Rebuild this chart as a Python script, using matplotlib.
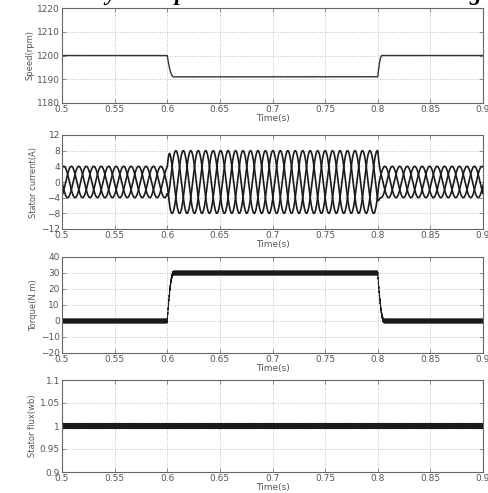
import numpy as np
import matplotlib
matplotlib.use("Agg")
import matplotlib.pyplot as plt

# ---- data ----
t_start, t_end = 0.5, 0.9
t_step_on, t_step_off = 0.6, 0.8          # load / speed change instants
speed_levels = [1200, 1191, 1200]          # rpm: before, during, after
speed_ramp = [0.006, 0.004]                # s: transition durations (down, up)
current_amp = [4.0, 8.0, 4.0]              # A: three-phase amplitude per segment
current_freq = 47.0                        # Hz (apparent)
torque_levels = [0.0, 30.0, 0.0]           # N.m
torque_ramp = [0.006, 0.006]
torque_ripple = 1.2
flux_level = 1.0                           # Wb
flux_ripple = 0.006

xticks = [0.5, 0.55, 0.6, 0.65, 0.7, 0.75, 0.8, 0.85, 0.9]
xticklabels = ["0.5", "0.55", "0.6", "0.65", "0.7", "0.75", "0.8", "0.85", "0.9"]
speed_ticks = [1180, 1190, 1200, 1210, 1220]
current_ticks = [-12, -8, -4, 0, 4, 8, 12]
torque_ticks = [-20, -10, 0, 10, 20, 30, 40]
flux_ticks = [0.9, 0.95, 1.0, 1.05, 1.1]
flux_ticklabels = ["0.9", "0.95", "1", "1.05", "1.1"]
ylabels = ["Speed(rpm)", "Stator current(A)", "Torque(N.m)", "Stator flux(wb)"]
xlabel = "Time(s)"

# ---- build signals from the values above ----
t = np.linspace(t_start, t_end, 40001)

def stepped(levels, ramps):
    a = np.clip((t - t_step_on) / ramps[0], 0, 1)
    s1 = 1 - (1 - a) ** 2
    y = levels[0] + (levels[1] - levels[0]) * s1
    b = np.clip((t - t_step_off) / ramps[1], 0, 1)
    s2 = 1 - (1 - b) ** 2
    y = y + (levels[2] - levels[1]) * s2
    return y

speed = stepped(speed_levels, speed_ramp)
amp = stepped(current_amp, [0.003, 0.003])
torque = stepped(torque_levels, torque_ramp) + torque_ripple * np.sin(2 * np.pi * 3000 * t)
flux = flux_level + flux_ripple * np.sin(2 * np.pi * 2500 * t) * (0.6 + 0.4 * np.abs(np.sin(2 * np.pi * 170 * t)))

phases = [amp * np.sin(2 * np.pi * current_freq * t - k * 2 * np.pi / 3) for k in range(3)]

# ---- figure ----
W, H = 488, 493
fig = plt.figure(figsize=(W / 100, H / 100), dpi=100)
plt.rcParams['font.family'] = ['DejaVu Sans']

# clipped caption remnants at the very top
for xp, ch in [(0.002, "/"), (0.215, "y"), (0.358, "p"), (0.962, "g")]:
    fig.text(xp, 1.0, ch, fontsize=17, fontweight="bold", fontstyle="italic",
             family=["Liberation Serif"], va="baseline", ha="left")

boxes = [(8, 103), (135, 229), (257, 353), (380, 472)]
left, right = 62, 483
tick_col = "#555555"
line_col = "#1a1a1a"

axes = []
for (top, bot) in boxes:
    ax = fig.add_axes([left / W, 1 - bot / H, (right - left) / W, (bot - top) / H])
    axes.append(ax)

def style(ax, yticks, ylim, ylab, yticklabels=None):
    ax.set_xlim(t_start, t_end)
    ax.set_ylim(*ylim)
    ax.set_xticks(xticks)
    ax.set_xticklabels(xticklabels)
    ax.set_yticks(yticks)
    if yticklabels is not None:
        ax.set_yticklabels(yticklabels)
    ax.tick_params(direction="in", length=3, width=0.6, top=True, right=True,
                   labelsize=6.5, labelcolor=tick_col, colors="#777777", pad=1.5)
    ax.grid(True, linestyle=(0, (1, 2)), color="#aaaaaa", linewidth=0.6)
    for sp in ax.spines.values():
        sp.set_color("#666666")
        sp.set_linewidth(0.8)
    ax.set_ylabel(ylab, fontsize=6, color=tick_col, labelpad=2)
    ax.set_xlabel(xlabel, fontsize=6.5, color=tick_col, labelpad=0)

axes[0].plot(t, speed, color="#333333", lw=1.0)
style(axes[0], speed_ticks, (1180, 1220), ylabels[0])

for ph in phases:
    axes[1].plot(t, ph, color=line_col, lw=1.2)
style(axes[1], current_ticks, (-12, 12), ylabels[1])

axes[2].plot(t, torque, color=line_col, lw=0.7)
style(axes[2], torque_ticks, (-20, 40), ylabels[2])

axes[3].plot(t, flux, color=line_col, lw=0.7)
style(axes[3], flux_ticks, (0.9, 1.1), ylabels[3], flux_ticklabels)

fig.savefig("out.png", dpi=100)
